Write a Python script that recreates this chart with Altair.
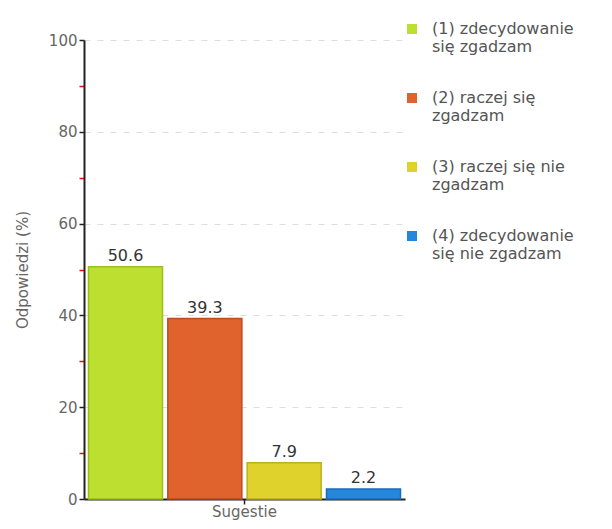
import json
import altair as alt
import pandas as pd

group = ["Sugestie", "Sugestie", "Sugestie", "Sugestie"]
line1 = ["(1) zdecydowanie", "(2) raczej się", "(3) raczej się nie", "(4) zdecydowanie"]
line2 = ["się zgadzam", "zgadzam", "zgadzam", "się nie zgadzam"]
values = [50.6, 39.3, 7.9, 2.2]
fills = ["#BDE030", "#E0632E", "#E0D22C", "#2487DC"]
strokes = ["#9DBF1A", "#C04A1C", "#BDAF19", "#1B6CB8"]
y_ticks = [0, 10, 20, 30, 40, 50, 60, 70, 80, 90, 100]

series = [a + " " + b for a, b in zip(line1, line2)]
df = pd.DataFrame({"grupa": group, "seria": series, "wartosc": values})
label_map = {s: [a, b] for s, a, b in zip(series, line1, line2)}

FONT = "DejaVu Sans"

base = alt.Chart(df).encode(
    x=alt.X("grupa:N", title=None,
            scale=alt.Scale(paddingOuter=0.0144, paddingInner=0),
            axis=alt.Axis(labelAngle=0, labelFont=FONT, labelFontSize=15,
                          labelColor="#666666", domainColor="#222222",
                          domainWidth=2, tickColor="#222222", tickWidth=1.5,
                          tickSize=5, labelPadding=0)),
    xOffset=alt.XOffset("seria:N", sort=series,
                        scale=alt.Scale(paddingInner=0.067, paddingOuter=0)),
)

bars = base.mark_bar(strokeWidth=1.5).encode(
    y=alt.Y("wartosc:Q", title="Odpowiedzi (%)",
            scale=alt.Scale(domain=[0, 100], nice=False),
            axis=alt.Axis(values=y_ticks,
                          labelExpr="datum.value % 20 == 0 ? datum.label : ''",
                          labelFont=FONT, labelFontSize=15, labelColor="#666666",
                          titleFont=FONT, titleFontSize=15, titleColor="#666666",
                          titleFontWeight="normal", titlePadding=18,
                          domainColor="#222222", domainWidth=2,
                          tickColor={"condition": {"test": "datum.value % 20 == 0", "value": "#222222"}, "value": "#ff0000"},
                          tickWidth=1.5, tickSize=5, labelPadding=2,
                          grid=True, gridColor="#dddddd", gridDash=[6, 7],
                          gridOpacity={"condition": {"test": "datum.value % 20 == 0 && datum.value > 0", "value": 1}, "value": 0})),
    color=alt.Color("seria:N", sort=series,
                    scale=alt.Scale(domain=series, range=fills),
                    legend=alt.Legend(title=None, orient="none", legendX=320, legendY=-19,
                                      symbolType="square", symbolSize=100,
                                      symbolStrokeWidth=0, labelFont=FONT,
                                      labelFontSize=16, labelColor="#555555",
                                      labelOffset=12, labelLimit=300,
                                      labelBaseline="middle",
                                      labelExpr=json.dumps(label_map, ensure_ascii=False) + "[datum.label]",
                                      rowPadding=35, padding=0)),
    stroke=alt.Stroke("seria:N", sort=series,
                      scale=alt.Scale(domain=series, range=strokes), legend=None),
)

text = base.mark_text(dy=-11, font=FONT, fontSize=16, color="#333333").encode(
    y=alt.Y("wartosc:Q"),
    text=alt.Text("wartosc:Q", format=".1f"),
)

chart = (bars + text).properties(
    width=321, height=459,
    autosize=alt.AutoSizeParams(type="none"),
    padding={"left": 76, "top": 32, "right": 199, "bottom": 22},
).configure_view(stroke=None).configure_axis(labelFlush=False)

chart.save("out.html", embed_options={"renderer": "svg", "actions": False})
